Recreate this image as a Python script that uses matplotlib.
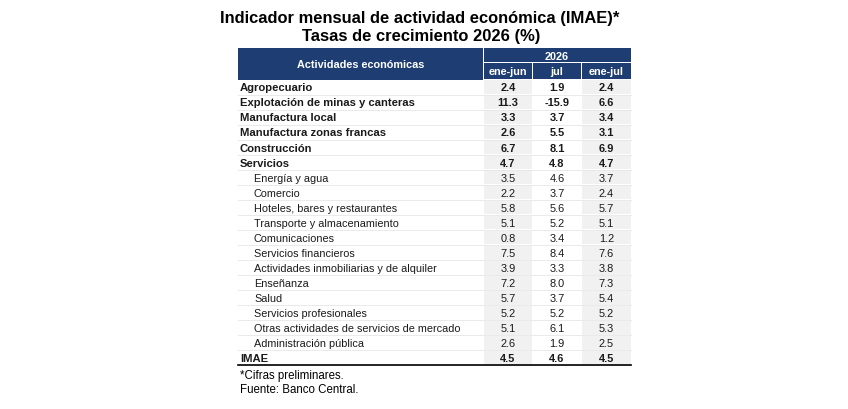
import matplotlib.pyplot as plt
from matplotlib.patches import Rectangle

plt.rcParams['font.family'] = ['Liberation Sans', 'DejaVu Sans']

title1 = 'Indicador mensual de actividad económica (IMAE)*'
title2 = 'Tasas de crecimiento 2026 (%)'
year = '2026'
periods = ['ene-jun', 'jul', 'ene-jul']

labels = ['Agropecuario', 'Explotación de minas y canteras', 'Manufactura local',
          'Manufactura zonas francas', 'Construcción', 'Servicios',
          'Energía y agua', 'Comercio', 'Hoteles, bares y restaurantes',
          'Transporte y almacenamiento', 'Comunicaciones', 'Servicios financieros',
          'Actividades inmobiliarias y de alquiler', 'Enseñanza', 'Salud',
          'Servicios profesionales', 'Otras actividades de servicios de mercado',
          'Administración pública', 'IMAE']
ene_jun = [2.4, 11.3, 3.3, 2.6, 6.7, 4.7, 3.5, 2.2, 5.8, 5.1, 0.8, 7.5, 3.9, 7.2, 5.7, 5.2, 5.1, 2.6, 4.5]
jul = [1.9, -15.9, 3.7, 5.5, 8.1, 4.8, 4.6, 3.7, 5.6, 5.2, 3.4, 8.4, 3.3, 8.0, 3.7, 5.2, 6.1, 1.9, 4.6]
ene_jul = [2.4, 6.6, 3.4, 3.1, 6.9, 4.7, 3.7, 2.4, 5.7, 5.1, 1.2, 7.6, 3.8, 7.3, 5.4, 5.2, 5.3, 2.5, 4.5]
bold = [True] * 6 + [False] * 12 + [True]

notes = ['*Cifras preliminares.', 'Fuente: Banco Central.']

navy = '#1e3d72'
fig = plt.figure(figsize=(8.48, 4.10), dpi=100)
ax = fig.add_axes([0, 0, 1, 1])
ax.set_xlim(0, 848)
ax.set_ylim(410, 0)
ax.set_axis_off()

# table geometry (pixels)
x0, x1 = 238, 631
col_edges = [483, 532, 581, 631]
top, mid, head_bot = 49, 63.5, 80.5
row_h = 15.05

ax.text(420, 18, title1, ha='center', va='center', fontsize=11.9, fontweight='bold')
ax.text(421, 37, title2, ha='center', va='center', fontsize=11.9, fontweight='bold')

# header
ax.add_patch(Rectangle((x0, top), col_edges[0] - x0, head_bot - top, color=navy, lw=0))
ax.add_patch(Rectangle((col_edges[0] + 1, top), x1 - col_edges[0] - 1, mid - top - 0.5, color=navy, lw=0))
for i in range(3):
    ax.add_patch(Rectangle((col_edges[i] + 1, mid + 0.5), col_edges[i + 1] - col_edges[i] - 1,
                           head_bot - mid - 1, color=navy, lw=0))
    ax.text((col_edges[i] + col_edges[i + 1]) / 2 + 0.5, (mid + head_bot) / 2 + 0.3, periods[i],
            ha='center', va='center', color='white', fontsize=7.8, fontweight='bold')
ax.text((x0 + col_edges[0]) / 2, 65, 'Actividades económicas', ha='center', va='center',
        color='white', fontsize=7.8, fontweight='bold')
ax.text((col_edges[0] + x1) / 2, 56.5, year, ha='center', va='center',
        color='white', fontsize=7.8, fontweight='bold')

# body
series = [ene_jun, jul, ene_jul]
for r, lab in enumerate(labels):
    y = head_bot + r * row_h
    yc = y + row_h / 2
    ax.plot([x0, x1], [y + row_h, y + row_h], color='#e6e6e6', lw=0.6)
    for c in (0, 2):
        ax.add_patch(Rectangle((col_edges[c] + 1, y + 0.6), col_edges[c + 1] - col_edges[c] - 1,
                               row_h - 1.2, color='#f1f1f1', lw=0))
    w = 'bold' if bold[r] else 'normal'
    ax.text(240 if bold[r] else 254, yc + 0.3, lab, ha='left', va='center',
            fontsize=8.1 if bold[r] else 7.8, fontweight=w, color='#1a1a1a')
    for c, vals in enumerate(series):
        ax.text((col_edges[c] + col_edges[c + 1]) / 2 + 0.5, yc + 0.3, f'{vals[r]:.1f}',
                ha='center', va='center', fontsize=7.9, fontweight=w, color='#1a1a1a')

bottom = head_bot + len(labels) * row_h
ax.plot([x0, x1], [bottom, bottom], color='black', lw=1.2)

ax.text(240, bottom + 10, notes[0], ha='left', va='center', fontsize=8.3)
ax.text(240, bottom + 24, notes[1], ha='left', va='center', fontsize=8.3)

fig.savefig('out.png', dpi=100)
